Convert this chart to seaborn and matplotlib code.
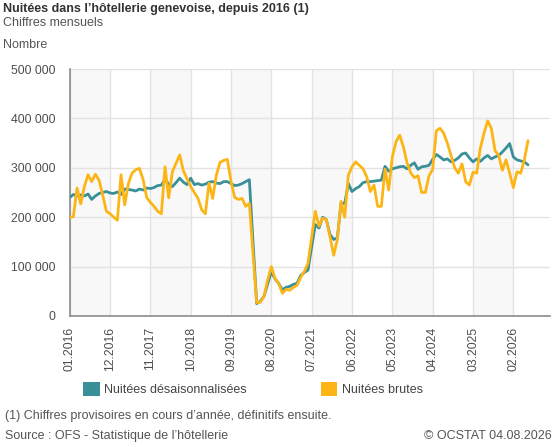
import numpy as np
import pandas as pd
import matplotlib
matplotlib.use('Agg')
import matplotlib.pyplot as plt
from matplotlib.patches import Patch
from matplotlib.ticker import FuncFormatter
import seaborn as sns

sns.set_style('white')
plt.rcParams['font.family'] = ['Liberation Sans', 'DejaVu Sans']

# mois de 01.2016 a 06.2026
mois = pd.period_range('2016-01', '2026-06', freq='M')

# nuitees desaisonnalisees, en milliers
desais = [240, 246, 243, 245, 243, 247, 236, 243, 248, 250,
          252, 249, 248, 251, 246, 257, 256, 255, 253, 257,
          255, 259, 258, 260, 264, 265, 276, 267, 262, 270,
          279, 271, 266, 279, 266, 268, 265, 267, 271, 272,
          269, 268, 272, 272, 268, 264, 265, 268, 272, 276,
          150, 25, 30, 40, 65, 90, 75, 66, 53, 58,
          60, 64, 66, 82, 88, 93, 140, 185, 178, 200,
          195, 165, 155, 158, 228, 228, 268, 252, 258, 262,
          270, 272, 272, 273, 274, 275, 303, 293, 298, 300,
          302, 303, 298, 305, 310, 297, 302, 303, 305, 317,
          327, 322, 316, 318, 312, 315, 320, 328, 330, 320,
          312, 318, 313, 320, 325, 318, 322, 325, 332, 340,
          349, 322, 316, 314, 312, 306]

# nuitees brutes, en milliers
brutes = [200, 201, 259, 227, 262, 286, 272, 287, 275, 245,
          212, 207, 200, 194, 286, 225, 268, 289, 296, 299,
          277, 240, 230, 222, 212, 207, 302, 239, 292, 309,
          326, 294, 278, 262, 250, 238, 215, 207, 269, 238,
          285, 311, 315, 317, 272, 240, 236, 238, 222, 228,
          125, 27, 28, 40, 73, 100, 76, 66, 46, 54,
          52, 58, 62, 78, 90, 107, 160, 212, 182, 198,
          195, 160, 123, 155, 232, 200, 285, 302, 312, 305,
          298, 282, 252, 265, 222, 222, 297, 255, 322, 353,
          366, 343, 310, 290, 280, 284, 250, 250, 284, 297,
          375, 380, 370, 350, 325, 300, 289, 308, 272, 265,
          291, 289, 340, 370, 395, 380, 335, 325, 295, 316,
          289, 260, 292, 289, 316, 355]

tick_labels = ['01.2016', '12.2016', '11.2017', '10.2018', '09.2019', '08.2020',
               '07.2021', '06.2022', '05.2023', '04.2024', '03.2025', '02.2026']

df = pd.DataFrame({'pos': np.arange(len(mois)),
                   'desais': np.array(desais) * 1000,
                   'brutes': np.array(brutes) * 1000})

teal = '#3a9099'
orange = '#fdb515'

fig = plt.figure(figsize=(5.57, 4.47), dpi=100)
ax = fig.add_axes([69.7 / 557, 1 - 316 / 447, (550 - 69.7) / 557, (316 - 69) / 447])

tick_pos = [list(mois.strftime('%m.%Y')).index(t) for t in tick_labels]

# bandes grises alternees
for k in range(0, len(tick_pos), 2):
    x0 = tick_pos[k]
    x1 = tick_pos[k + 1] if k + 1 < len(tick_pos) else 131
    ax.axvspan(x0, x1, color='#f8f8f8', zorder=0, lw=0)

sns.lineplot(data=df, x='pos', y='desais', color=teal, lw=2, ax=ax, zorder=3)
sns.lineplot(data=df, x='pos', y='brutes', color=orange, lw=2, ax=ax, zorder=4)

ax.set_xlim(0, 131)
ax.set_ylim(0, 500000)
ax.set_xticks(tick_pos)
ax.set_xticklabels(tick_labels, rotation=90, fontsize=8.7, color='#4d4d4d')
ax.set_yticks(np.arange(0, 500001, 100000))
ax.yaxis.set_major_formatter(FuncFormatter(lambda v, p: f'{int(v):,}'.replace(',', ' ')))
ax.tick_params(axis='y', labelsize=8.8, labelcolor='#4d4d4d', length=7, color='#8c8c8c', width=1)
ax.tick_params(axis='x', length=6, color='#8c8c8c', width=1, pad=2)
ax.grid(True, color='#e3e3e3', lw=1)
ax.set_axisbelow(True)
ax.set_xlabel('')
ax.set_ylabel('')
for s in ['top', 'right']:
    ax.spines[s].set_visible(False)
for s in ['left', 'bottom']:
    ax.spines[s].set_color('#8c8c8c')
    ax.spines[s].set_linewidth(1.2)

fig.text(3 / 557, 1 - 3 / 447, "Nuitées dans l’hôtellerie genevoise, depuis 2016 (1)",
         fontsize=9, fontweight='bold', color='#333333', va='top')
fig.text(3 / 557, 1 - 17 / 447, 'Chiffres mensuels', fontsize=9, color='#555555', va='top')
fig.text(3 / 557, 1 - 39 / 447, 'Nombre', fontsize=9, color='#555555', va='top')

handles = [Patch(facecolor=teal, edgecolor='none', label='Nuitées désaisonnalisées'),
           Patch(facecolor=orange, edgecolor='none', label='Nuitées brutes')]
fig.legend(handles=handles, loc='center left', bbox_to_anchor=(72 / 557, 1 - 389 / 447),
           ncol=2, frameon=False, fontsize=9, handlelength=1.3, handleheight=1.3,
           handletextpad=0.4, columnspacing=5.9, labelcolor='#444444')

fig.text(5 / 557, 1 - 410 / 447, "(1) Chiffres provisoires en cours d’année, définitifs ensuite.",
         fontsize=9, color='#555555', va='top')
fig.text(5 / 557, 1 - 430 / 447, "Source : OFS - Statistique de l’hôtellerie",
         fontsize=9, color='#555555', va='top')
fig.text(552 / 557, 1 - 430 / 447, '© OCSTAT 04.08.2026',
         fontsize=9, color='#555555', va='top', ha='right')

fig.savefig('out.png', dpi=100)
